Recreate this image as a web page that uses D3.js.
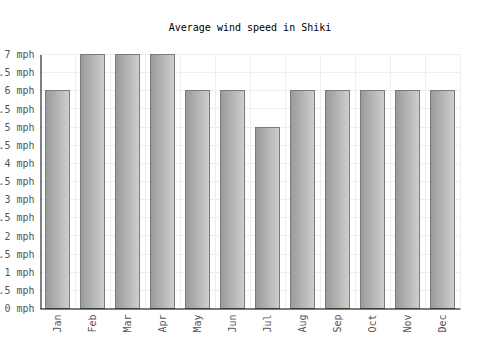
<!DOCTYPE html>
<html>
<head>
<meta charset="utf-8">
<script src="https://cdn.jsdelivr.net/npm/d3@7"></script>
<style>
  html, body { margin: 0; padding: 0; background: #fff; }
  svg { display: block; }
  text { font-family: "DejaVu Sans Mono", monospace; }
</style>
</head>
<body>
<div id="chart"></div>
<script>
const title = "Average wind speed in Shiki";
const months = ["Jan","Feb","Mar","Apr","May","Jun","Jul","Aug","Sep","Oct","Nov","Dec"];
const windSpeed = [6, 7, 7, 7, 6, 6, 5, 6, 6, 6, 6, 6];
const yTicks = [0, 0.5, 1, 1.5, 2, 2.5, 3, 3.5, 4, 4.5, 5, 5.5, 6, 6.5, 7];
const unit = "mph";

const W = 500, H = 350;
const m = { left: 40, right: 40, top: 54, bottom: 42 };

const svg = d3.select("#chart").append("svg").attr("width", W).attr("height", H);

const defs = svg.append("defs");
const grad = defs.append("linearGradient").attr("id", "barGrad")
  .attr("x1", "0%").attr("x2", "100%").attr("y1", "0%").attr("y2", "0%");
grad.append("stop").attr("offset", "0%").attr("stop-color", "#999999");
grad.append("stop").attr("offset", "100%").attr("stop-color", "#cfcfcf");

const x = d3.scaleBand().domain(months).range([m.left, W - m.right]).paddingInner(0.314).paddingOuter(0.157);
const xBand = d3.scaleBand().domain(months).range([m.left, W - m.right]);
const y = d3.scaleLinear().domain([0, 7]).range([H - m.bottom, m.top]);

// title
svg.append("text").attr("x", 250).attr("y", 31).attr("text-anchor", "middle")
  .attr("font-size", 10).attr("fill", "#000").text(title);

// horizontal grid
svg.append("g").selectAll("line").data(yTicks).join("line")
  .attr("x1", m.left).attr("x2", W - m.right)
  .attr("y1", d => Math.round(y(d)) + 0.5).attr("y2", d => Math.round(y(d)) + 0.5)
  .attr("stroke", "#eeeeee").attr("stroke-width", 1);

// vertical grid at band boundaries
svg.append("g").selectAll("line").data(months).join("line")
  .attr("x1", d => Math.round(xBand(d) + xBand.bandwidth()) + 0.5)
  .attr("x2", d => Math.round(xBand(d) + xBand.bandwidth()) + 0.5)
  .attr("y1", m.top).attr("y2", H - m.bottom)
  .attr("stroke", "#eeeeee").attr("stroke-width", 1);

// bars
svg.append("g").selectAll("rect").data(windSpeed).join("rect")
  .attr("x", (d, i) => Math.round(x(months[i])) + 0.5)
  .attr("y", d => Math.round(y(d)) + 0.5)
  .attr("width", Math.round(x.bandwidth()))
  .attr("height", d => Math.round(y(0)) - Math.round(y(d)))
  .attr("fill", "url(#barGrad)")
  .attr("stroke", "#7a7a7a").attr("stroke-width", 1);

// y axis
const yAxis = d3.axisLeft(y).tickValues(yTicks).tickSize(0).tickPadding(6)
  .tickFormat(d => d + " " + unit);
const gy = svg.append("g").attr("transform", `translate(${m.left + 0.5},0.5)`).call(yAxis);
gy.select(".domain").attr("stroke", "#000");
gy.selectAll("text").attr("font-size", 10).attr("fill", "#555").attr("font-family", "DejaVu Sans Mono, monospace");

// x axis
const xAxis = d3.axisBottom(xBand).tickSize(0).tickPadding(0);
const gx = svg.append("g").attr("transform", `translate(0,${H - m.bottom + 0.5})`).call(xAxis);
gx.select(".domain").attr("stroke", "#000");
gx.selectAll("text")
  .attr("font-size", 10).attr("fill", "#555").attr("font-family", "DejaVu Sans Mono, monospace")
  .attr("text-anchor", "end").attr("dy", "0.35em")
  .attr("transform", "translate(0,6) rotate(-90)")
  .attr("x", 0).attr("y", 0);
</script>
</body>
</html>
